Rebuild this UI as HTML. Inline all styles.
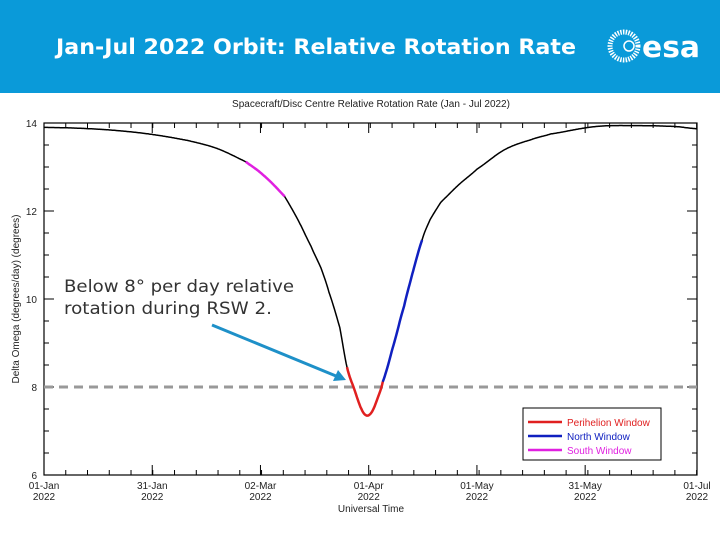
<!DOCTYPE html>
<html><head><meta charset="utf-8"><style>
html,body{margin:0;padding:0;background:#fff}
#wrap{position:relative;width:720px;height:540px;overflow:hidden;font-family:"Liberation Sans",sans-serif}
</style></head><body>
<div id="wrap">
<svg id="svg" width="720" height="540" viewBox="0 0 720 540" xmlns="http://www.w3.org/2000/svg">
<rect x="0" y="0" width="720" height="93" fill="#0a9ad9"/>
<text x="316" y="54" text-anchor="middle" font-family="DejaVu Sans" font-weight="bold" font-size="21.5" fill="#fff" textLength="520" lengthAdjust="spacingAndGlyphs">Jan-Jul 2022 Orbit: Relative Rotation Rate</text>
<g>
<circle cx="624" cy="46" r="14" fill="none" stroke="#fff" stroke-width="5" stroke-dasharray="1.5 1.2"/>
<circle cx="629" cy="46" r="5" fill="#0a9ad9" stroke="#fff" stroke-width="1.5"/>
<text x="642" y="57" font-family="DejaVu Sans" font-weight="bold" font-size="29" fill="#fff" textLength="58" lengthAdjust="spacingAndGlyphs">esa</text>
</g>
<text x="371" y="107" text-anchor="middle" font-size="10" fill="#222">Spacecraft/Disc Centre Relative Rotation Rate (Jan - Jul 2022)</text>
<g id="plot"></g>
<text x="64" y="292" font-family="DejaVu Sans" font-size="17" fill="#333" textLength="230" lengthAdjust="spacingAndGlyphs">Below 8° per day relative</text>
<text x="64" y="314" font-family="DejaVu Sans" font-size="17" fill="#333" textLength="208" lengthAdjust="spacingAndGlyphs">rotation during RSW 2.</text>
<g>
<line x1="212" y1="325" x2="336" y2="376" stroke="#1e90c8" stroke-width="3"/>
<polygon points="346,380 333,381 338,370" fill="#1e90c8"/>
</g>
<g>
<rect x="523" y="408" width="138" height="52" fill="#fff" stroke="#000" stroke-width="1"/>
<line x1="528" y1="422" x2="562" y2="422" stroke="#e02020" stroke-width="2.5"/>
<text x="567" y="426" font-size="10" fill="#e02020">Perihelion Window</text>
<line x1="528" y1="436" x2="562" y2="436" stroke="#1020c0" stroke-width="2.5"/>
<text x="567" y="440" font-size="10" fill="#1020c0">North Window</text>
<line x1="528" y1="450" x2="562" y2="450" stroke="#e020e0" stroke-width="2.5"/>
<text x="567" y="454" font-size="10" fill="#e020e0">South Window</text>
</g>
</svg>
</div>
<script>
const days=[0,10,20,30,40,48,55.9,61,66.7,70.4,74,76.8,79,82,84,86,88,89.5,91,92.5,93.9,96.5,99.8,102,104.8,107,110,115,120,127.6,135,140.4,153,165,175,181];
const values=[13.9,13.88,13.83,13.74,13.6,13.42,13.12,12.8,12.33,11.8,11.2,10.7,10.15,9.35,8.45,7.95,7.5,7.35,7.45,7.75,8.12,8.85,9.83,10.55,11.34,11.8,12.2,12.6,12.95,13.39,13.62,13.75,13.92,13.94,13.92,13.87];
const southWin=[55.9,66.7];
const periWin=[84,93.9];
const northWin=[93.9,104.8];
const threshold=8;
const yTicks=[6,8,10,12,14];
const xTickDays=[0,30,60,90,120,150,181];
const xTickLabels=[["01-Jan","2022"],["31-Jan","2022"],["02-Mar","2022"],["01-Apr","2022"],["01-May","2022"],["31-May","2022"],["01-Jul","2022"]];
const L=44,R=697,T=123,B=475,D0=0,D1=181,V0=6,V1=14;
const X=d=>L+(d-D0)/(D1-D0)*(R-L);
const Y=v=>B-(v-V0)/(V1-V0)*(B-T);
const NS="http://www.w3.org/2000/svg";
const g=document.getElementById('plot');
function mk(t,a){const e=document.createElementNS(NS,t);for(const k in a)e.setAttribute(k,a[k]);g.appendChild(e);return e;}
let e=mk('rect',{x:L,y:T,width:R-L,height:B-T,fill:'none',stroke:'#000','stroke-width':1.2});


for(let v=V0;v<=V1+1e-9;v+=0.5){const maj=Math.abs(v-Math.round(v/2)*2)<1e-9;const len=maj?10:5;
mk('line',{x1:L,y1:Y(v),x2:L+len,y2:Y(v),stroke:'#000'});mk('line',{x1:R,y1:Y(v),x2:R-len,y2:Y(v),stroke:'#000'});}
yTicks.forEach(v=>{const t=mk('text',{x:L-7,y:Y(v)+4,'text-anchor':'end','font-size':10,fill:'#222'});t.textContent=v;

});
for(let d=0;d<=181;d+=6.03){mk('line',{x1:X(d),y1:B,x2:X(d),y2:B-5,stroke:'#000'});mk('line',{x1:X(d),y1:T,x2:X(d),y2:T+5,stroke:'#000'});}
xTickDays.forEach((d,i)=>{mk('line',{x1:X(d),y1:B,x2:X(d),y2:B-10,stroke:'#000'});mk('line',{x1:X(d),y1:T,x2:X(d),y2:T+10,stroke:'#000'});
const t=mk('text',{x:X(d),y:B+14,'text-anchor':'middle','font-size':10,fill:'#222'});


xTickLabels[i].forEach((s,j)=>{const ts=document.createElementNS(NS,'tspan');ts.setAttribute('x',X(d));ts.setAttribute('dy',j?11:0);ts.textContent=s;t.appendChild(ts);});});
let xt=mk('text',{x:371,y:512,'text-anchor':'middle','font-size':10,fill:'#222'});xt.textContent='Universal Time';


let yt=mk('text',{x:0,y:0,'text-anchor':'middle','font-size':10,fill:'#222',transform:`translate(19,${(T+B)/2}) rotate(-90)`});yt.textContent='Delta Omega (degrees/day) (degrees)';


let th=mk('line',{x1:L,y1:Y(threshold),x2:R,y2:Y(threshold),stroke:'#999','stroke-width':3,'stroke-dasharray':'9 6'});


function cr(d){let i=0;while(i<days.length-2&&d>days[i+1])i++;
const p0=values[Math.max(i-1,0)],p1=values[i],p2=values[i+1],p3=values[Math.min(i+2,values.length-1)];
const t=(d-days[i])/(days[i+1]-days[i]);const t2=t*t,t3=t2*t;
return 0.5*((2*p1)+(-p0+p2)*t+(2*p0-5*p1+4*p2-p3)*t2+(-p0+3*p1-3*p2+p3)*t3);}
function seg(a,b){const pts=[];const n=Math.max(10,Math.ceil((b-a)*4));for(let k=0;k<=n;k++){const d=a+(b-a)*k/n;pts.push(X(d).toFixed(1)+','+Y(cr(d)).toFixed(1));}return pts.join(' ');}
let c=mk('polyline',{points:seg(days[0],days[days.length-1]),fill:'none',stroke:'#000','stroke-width':1.5});


let s=mk('polyline',{points:seg(southWin[0],southWin[1]),fill:'none',stroke:'#e020e0','stroke-width':2.5});


let p=mk('polyline',{points:seg(periWin[0],periWin[1]),fill:'none',stroke:'#e02020','stroke-width':2.5});


let n=mk('polyline',{points:seg(northWin[0],northWin[1]),fill:'none',stroke:'#1020c0','stroke-width':2.5});


</script>
</body></html>
